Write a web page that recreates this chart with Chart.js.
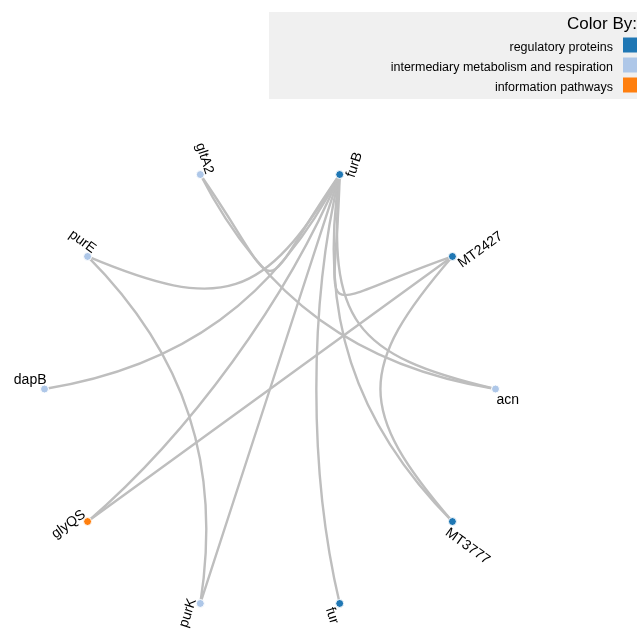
<!DOCTYPE html>
<html>
<head>
<meta charset="utf-8">
<script src="https://cdn.jsdelivr.net/npm/chart.js@4"></script>
<style>
  html, body { margin: 0; padding: 0; background: #fff; }
  #wrap { position: relative; width: 637px; height: 629px; }
</style>
</head>
<body>
<div id="wrap"><canvas id="chart"></canvas></div>
<script>
// nodes in circle order, clockwise from the top
const nodeNames = ['furB', 'MT2427', 'acn', 'MT3777', 'fur', 'purK', 'glyQS', 'dapB', 'purE', 'gltA2'];
const nodeGroups = [0, 0, 1, 0, 0, 1, 2, 1, 1, 1];

const groupNames = ['regulatory proteins', 'intermediary metabolism and respiration', 'information pathways'];
const groupColors = ['#1f77b4', '#aec7e8', '#ff7f0e'];

// links
const edgeSources = ['furB', 'furB', 'furB', 'furB', 'furB', 'furB', 'furB', 'furB', 'furB', 'MT2427', 'MT2427', 'gltA2', 'purE'];
const edgeTargets = ['gltA2', 'purE', 'dapB', 'glyQS', 'purK', 'fur', 'MT3777', 'acn', 'MT2427', 'glyQS', 'MT3777', 'acn', 'purK'];

const FONT = 'Arial, "Liberation Sans", sans-serif';
const START_ANGLE = 18; // degrees, clockwise from top

// circular layout
const angleOf = (i) => START_ANGLE + 360 / nodeNames.length * i;
const layout = nodeNames.map((name, i) => {
    const a = angleOf(i) * Math.PI / 180;
    return { name, x: Math.sin(a), y: Math.cos(a) };
});

const datasets = groupNames.map((g, gi) => ({
    label: g,
    data: layout.filter((p, i) => nodeGroups[i] === gi).map(p => ({ x: p.x, y: p.y })),
    pointRadius: 4,
    pointBackgroundColor: groupColors[gi],
    pointBorderColor: '#ffffff',
    pointBorderWidth: 1,
    pointHoverRadius: 4,
    showLine: false,
    clip: false
}));

// unit vector helper
const unit = (x, y) => { const l = Math.hypot(x, y) || 1; return [x / l, y / l]; };

const networkPlugin = {
    id: 'network',
    beforeDatasetsDraw(chart) {
        const ctx = chart.ctx;
        const xs = chart.scales.x, ys = chart.scales.y;
        const cx = xs.getPixelForValue(0), cy = ys.getPixelForValue(0);
        const R = xs.getPixelForValue(1) - cx;
        const pix = (name) => {
            const p = layout[nodeNames.indexOf(name)];
            return [xs.getPixelForValue(p.x), ys.getPixelForValue(p.y)];
        };
        // leaving direction: inward radius, leaning a little toward the other end
        const tangent = (px, py, ox, oy) => {
            const [ux, uy] = unit(cx - px, cy - py);
            const [vx, vy] = unit(ox - px, oy - py);
            return unit(ux + 0.35 * vx, uy + 0.35 * vy);
        };
        ctx.save();
        ctx.strokeStyle = 'rgb(190,190,190)';
        ctx.lineWidth = 2.4;
        ctx.lineCap = 'round';
        edgeSources.forEach((s, i) => {
            const [ax, ay] = pix(s);
            const [bx, by] = pix(edgeTargets[i]);
            const chord = Math.hypot(bx - ax, by - ay) / (2 * R);
            const L = R * (0.74 - 0.15 * chord);
            const [tax, tay] = tangent(ax, ay, bx, by);
            const [tbx, tby] = tangent(bx, by, ax, ay);
            ctx.beginPath();
            ctx.moveTo(ax, ay);
            ctx.bezierCurveTo(ax + L * tax, ay + L * tay, bx + L * tbx, by + L * tby, bx, by);
            ctx.stroke();
        });
        ctx.restore();
    },
    afterDatasetsDraw(chart) {
        const ctx = chart.ctx;
        const xs = chart.scales.x, ys = chart.scales.y;
        ctx.save();
        ctx.fillStyle = '#000';
        ctx.font = '14px ' + FONT;
        ctx.textBaseline = 'alphabetic';
        layout.forEach((p, i) => {
            const deg = angleOf(i);
            const flip = deg > 180;
            const rot = (flip ? deg - 270 : deg - 90) * Math.PI / 180;
            ctx.save();
            ctx.translate(xs.getPixelForValue(p.x), ys.getPixelForValue(p.y));
            ctx.rotate(rot);
            if (flip) {
                ctx.textAlign = 'right';
                ctx.fillText(p.name, 2, -5);
            } else {
                ctx.textAlign = 'left';
                ctx.fillText(p.name, 1, 15);
            }
            ctx.restore();
        });
        ctx.restore();
    },
    afterDraw(chart) {
        // "Color By:" legend box, top right
        const ctx = chart.ctx;
        const W = chart.width;
        ctx.save();
        ctx.fillStyle = '#f0f0f0';
        ctx.fillRect(269, 12, W - 269, 87);
        ctx.fillStyle = '#000';
        ctx.textAlign = 'right';
        ctx.textBaseline = 'alphabetic';
        ctx.font = '17px ' + FONT;
        ctx.fillText('Color By:', W, 29);
        ctx.font = '12.5px ' + FONT;
        groupNames.forEach((g, i) => {
            ctx.fillStyle = '#000';
            ctx.fillText(g, 613, 51 + i * 20);
            ctx.fillStyle = groupColors[i];
            ctx.fillRect(623, 37.5 + i * 20, 20, 15);
        });
        ctx.restore();
    }
};

new Chart(document.getElementById('chart'), {
    type: 'scatter',
    data: { datasets },
    options: {
        responsive: true,
        maintainAspectRatio: false,
        animation: false,
        layout: { padding: { left: 44.5, right: 141.5, top: 163.5, bottom: 14.5 } },
        scales: {
            x: { type: 'linear', min: -1, max: 1, display: false },
            y: { type: 'linear', min: -1, max: 1, display: false }
        },
        plugins: {
            legend: { display: false },
            tooltip: { enabled: false }
        }
    },
    plugins: [networkPlugin]
});
</script>
</body>
</html>
